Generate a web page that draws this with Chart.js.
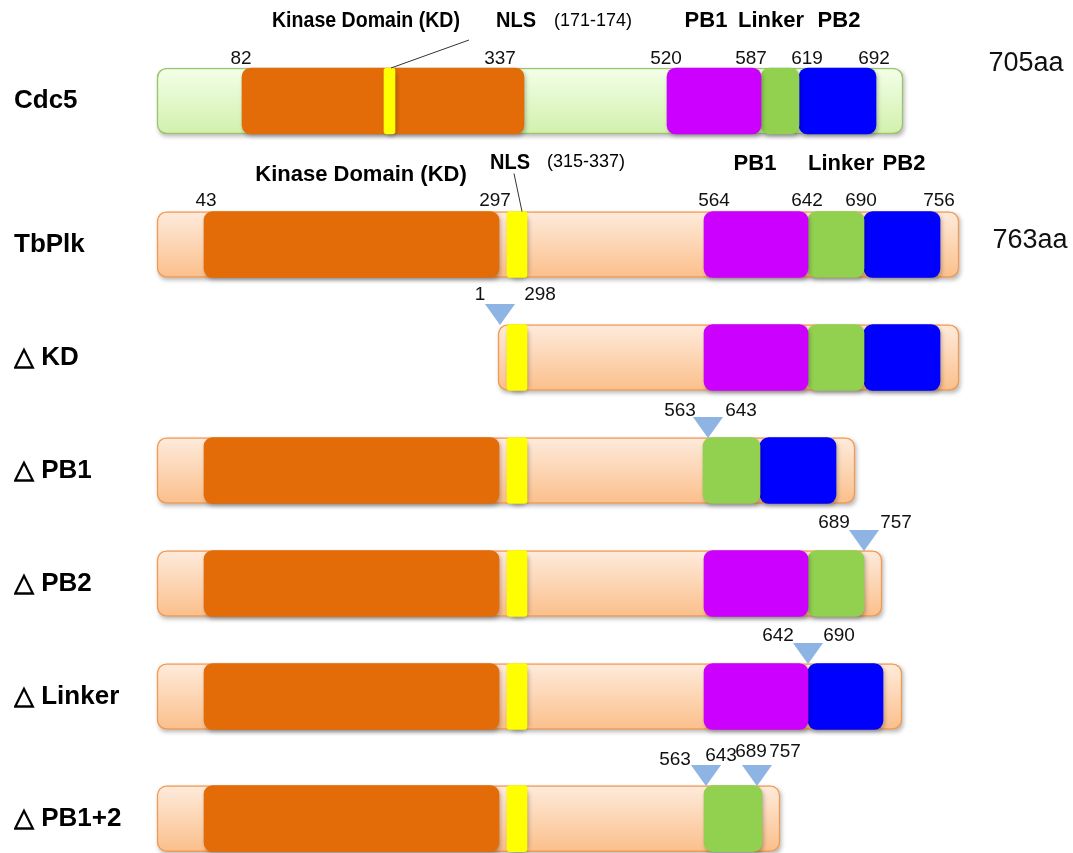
<!DOCTYPE html>
<html>
<head>
<meta charset="utf-8">
<title>TbPlk domain constructs</title>
<script src="https://cdn.jsdelivr.net/npm/chart.js@4.4.0/dist/chart.umd.min.js"></script>
<style>
  html, body { margin: 0; padding: 0; background: #fff; }
  canvas { display: block; }
</style>
</head>
<body>
<canvas id="domains" width="1073" height="853"></canvas>
<script>
const FONT = '"Liberation Sans", Arial, Helvetica, sans-serif';

// rows, top to bottom
const constructs = ["Cdc5", "TbPlk", "△ KD", "△ PB1", "△ PB2", "△ Linker", "△ PB1+2"];
const trackPos = [0, 1.27, 2.27, 3.27, 4.27, 5.27, 6.35];

// domain extents on the schematic (not to scale) drawing axis, 0 = start of the full-length bar
const fullLength   = [[0, 746], [0, 802], [341, 802], [0, 698], [0, 725], [0, 745], [0, 623]];
const kinaseDomain = [[85, 367], [47, 342], null, [47, 342], [47, 342], [47, 342], [47, 342]];
const nls          = [[227, 238], [350, 370], [350, 370], [350, 370], [350, 370], [350, 370], [350, 370]];
const pb1          = [[510, 604], [547, 651], [547, 651], null, [547, 651], [547, 651], null];
const linker       = [[604, 642], [651, 707], [651, 707], [546, 603], [651, 707], null, [547, 605]];
const pb2          = [[642, 719], [707, 783], [707, 783], [603, 679], null, [651, 726], null];

// deletion junctions: [row, position]
const deletionSites = [[2, 343], [3, 551], [4, 707], [5, 651], [6, 549], [6, 600]];

// residue numbers: [row, text, position, px above track centre]
const residueLabels = [
    [0, "82", 84, 42], [0, "337", 343, 42], [0, "520", 509, 42], [0, "587", 594, 42], [0, "619", 650, 42], [0, "692", 717, 42],
    [1, "43", 49, 44], [1, "297", 338, 44], [1, "564", 557, 44], [1, "642", 650, 44], [1, "690", 704, 44], [1, "756", 782, 44],
    [2, "1", 323, 63], [2, "298", 383, 63],
    [3, "563", 523, 60], [3, "643", 584, 60],
    [4, "689", 677, 61], [4, "757", 739, 61],
    [5, "642", 621, 61], [5, "690", 682, 61],
    [6, "563", 518, 59], [6, "643", 564, 63], [6, "689", 594, 67], [6, "757", 628, 67],
];

// protein lengths: [row, text, position, px above track centre]
const lengthLabels = [[0, "705aa", 869, 37], [1, "763aa", 873, 4]];

// domain titles: [row, text, position, px above track centre, bold, max width]
const domainTitles = [
    [0, "Kinase Domain (KD)", 209, 80, true, 188], [0, "NLS", 359, 80, true, 40], [0, "(171-174)", 436, 80, false, 0],
    [0, "PB1", 549, 80, true, 0], [0, "Linker", 614, 80, true, 0], [0, "PB2", 682, 80, true, 0],
    [1, "Kinase Domain (KD)", 204, 70, true, 216], [1, "NLS", 353, 82, true, 40], [1, "(315-337)", 429, 82, false, 0],
    [1, "PB1", 598, 81, true, 0], [1, "Linker", 684, 81, true, 0], [1, "PB2", 747, 81, true, 0],
];

// NLS leader lines: [row, x1, px above centre, x2, px above centre]
const leaderLines = [[0, 312, 61, 234, 33], [1, 357, 71, 365, 33]];

const COLORS = {
    kinase: "#e36c09",
    nls: "#ffff00",
    pb1: "#cc00ff",
    linker: "#92d050",
    pb2: "#0000ff",
    marker: "#8db4e2",
};
const TRACK_PX = 113;   // pixels per track unit on the y axis
const BAR_PX = 66;

function toPoints(spans) {
    return spans
        .map((s, i) => (s ? {x: s, y: trackPos[i], row: i} : null))
        .filter(Boolean);
}

function trackFill(context) {
    const raw = context.raw;
    const green = raw && raw.row === 0;
    const stops = green ? ["#f3ffe8", "#d2f0ad"] : ["#feebdc", "#fbbf8b"];
    if (!raw || !context.chart.chartArea) return stops[1];
    const cy = context.chart.scales.y.getPixelForValue(raw.y);
    const g = context.chart.ctx.createLinearGradient(0, cy - BAR_PX / 2, 0, cy + BAR_PX / 2);
    g.addColorStop(0, stops[0]);
    g.addColorStop(1, stops[1]);
    return g;
}

function roundRectPath(ctx, x, y, w, h, r) {
    r = Math.min(r, w / 2, h / 2);
    ctx.beginPath();
    ctx.moveTo(x + r, y);
    ctx.arcTo(x + w, y, x + w, y + h, r);
    ctx.arcTo(x + w, y + h, x, y + h, r);
    ctx.arcTo(x, y + h, x, y, r);
    ctx.arcTo(x, y, x + w, y, r);
    ctx.closePath();
}

function makeMarker() {
    const c = document.createElement("canvas");
    c.width = 30;
    c.height = 21;
    const g = c.getContext("2d");
    g.fillStyle = COLORS.marker;
    g.beginPath();
    g.moveTo(0, 0);
    g.lineTo(30, 0);
    g.lineTo(15, 21);
    g.closePath();
    g.fill();
    return c;
}

// soft drop shadow under every box, like the office shapes in the figure
const shadowPlugin = {
    id: "boxShadow",
    beforeDatasetDraw(chart, args) {
        if (args.meta.type !== "bar") return;
        const ctx = chart.ctx;
        ctx.save();
        ctx.filter = "blur(2px)";
        ctx.fillStyle = "rgba(0,0,0,0.28)";
        args.meta.data.forEach((bar) => {
            const {x, y, base, height} = bar.getProps(["x", "y", "base", "height"], true);
            const left = Math.min(x, base);
            roundRectPath(ctx, left + 1.5, y - height / 2 + 2.5, Math.abs(x - base), height, 8);
            ctx.fill();
        });
        ctx.restore();
    },
};

const annotationPlugin = {
    id: "annotations",
    afterDatasetsDraw(chart) {
        const {ctx, scales: {x, y}} = chart;
        const rowY = (row) => y.getPixelForValue(trackPos[row]);
        ctx.save();
        ctx.textAlign = "center";
        ctx.textBaseline = "middle";

        ctx.strokeStyle = "#333";
        ctx.lineWidth = 1;
        leaderLines.forEach(([row, x1, d1, x2, d2]) => {
            ctx.beginPath();
            ctx.moveTo(x.getPixelForValue(x1), rowY(row) - d1);
            ctx.lineTo(x.getPixelForValue(x2), rowY(row) - d2);
            ctx.stroke();
        });

        ctx.fillStyle = "#111";
        ctx.font = `19px ${FONT}`;
        residueLabels.forEach(([row, text, pos, up]) => {
            ctx.fillText(text, x.getPixelForValue(pos), rowY(row) - up);
        });

        ctx.font = `27px ${FONT}`;
        lengthLabels.forEach(([row, text, pos, up]) => {
            ctx.fillText(text, x.getPixelForValue(pos), rowY(row) - up, 76);
        });

        ctx.fillStyle = "#000";
        domainTitles.forEach(([row, text, pos, up, bold, maxW]) => {
            ctx.font = bold ? `bold 22px ${FONT}` : `18px ${FONT}`;
            const px = x.getPixelForValue(pos);
            if (maxW) ctx.fillText(text, px, rowY(row) - up, maxW);
            else ctx.fillText(text, px, rowY(row) - up);
        });
        ctx.restore();
    },
};

const boxDefaults = {
    type: "bar",
    indexAxis: "y",
    grouped: false,
    barThickness: BAR_PX,
    borderSkipped: false,
    borderWidth: 0,
    borderRadius: 9,
};

new Chart(document.getElementById("domains"), {
    type: "bar",
    data: {
        datasets: [
            {
                type: "scatter",
                data: deletionSites.map(([row, pos]) => ({x: pos, y: trackPos[row] - 43 / TRACK_PX})),
                pointStyle: makeMarker(),
                pointRadius: 10,
                showLine: false,
                order: 0,
            },
            {...boxDefaults, label: "NLS", data: toPoints(nls), backgroundColor: COLORS.nls, borderRadius: 3, order: 1},
            {...boxDefaults, label: "KD", data: toPoints(kinaseDomain), backgroundColor: COLORS.kinase, order: 2},
            {...boxDefaults, label: "PB1", data: toPoints(pb1), backgroundColor: COLORS.pb1, order: 2},
            {...boxDefaults, label: "Linker", data: toPoints(linker), backgroundColor: COLORS.linker, order: 2},
            {...boxDefaults, label: "PB2", data: toPoints(pb2), backgroundColor: COLORS.pb2, order: 2},
            {
                ...boxDefaults,
                label: "protein",
                data: toPoints(fullLength),
                backgroundColor: trackFill,
                borderColor: (c) => (c.raw && c.raw.row === 0 ? "#9bc46c" : "#f39a52"),
                borderWidth: 1.5,
                borderRadius: 10,
                order: 3,
            },
        ],
    },
    options: {
        indexAxis: "y",
        responsive: false,
        devicePixelRatio: 1,
        animation: false,
        events: [],
        layout: {padding: {left: 14, right: 0, top: 0, bottom: 0}, autoPadding: false},
        scales: {
            x: {
                type: "linear",
                min: -7,
                max: 916,
                offset: false,
                bounds: "data",
                display: false,
            },
            y: {
                type: "linear",
                reverse: true,
                min: -101 / TRACK_PX,
                max: (853 - 101) / TRACK_PX,
                offset: false,
                bounds: "data",
                grid: {display: false, offset: false},
                border: {display: false},
                afterBuildTicks(scale) {
                    scale.ticks = trackPos.map((v) => ({value: v}));
                },
                afterFit(scale) {
                    scale.width = 136;
                    scale.paddingTop = 0;
                    scale.paddingBottom = 0;
                },
                ticks: {
                    autoSkip: false,
                    crossAlign: "far",
                    padding: 0,
                    color: "#000",
                    font: {family: FONT, size: 26, weight: "bold"},
                    callback: (value, index) => constructs[index],
                },
            },
        },
        plugins: {
            legend: {display: false},
            tooltip: {enabled: false},
        },
    },
    plugins: [shadowPlugin, annotationPlugin],
});
</script>
</body>
</html>
